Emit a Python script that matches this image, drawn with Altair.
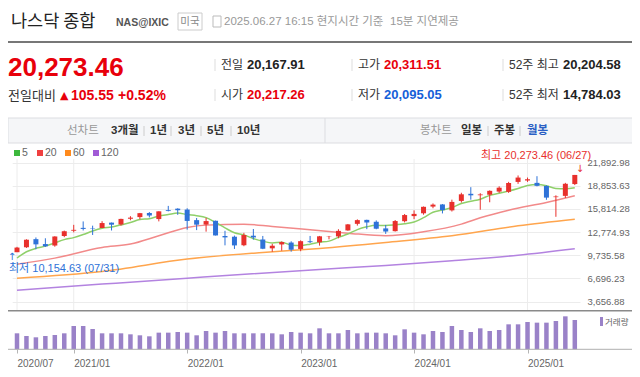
import json
import altair as alt
import pandas as pd

# ---------------- data ----------------
months = [f"{y}/{m:02d}" for y in range(2020, 2026) for m in range(1, 13)][6:66]

opens = [10134, 10785, 11850, 11205, 11010, 12263, 12958, 13330, 13302, 13313,
         14017, 13776, 14526, 14745, 15280, 14484, 15650, 15850, 15733, 14345,
         13760, 14261, 12267, 12170, 11049, 12300, 11809, 10646, 11154, 11405,
         10562, 11574, 11438, 12190, 12210, 12991, 13858, 14378, 14130, 13260,
         12898, 14205, 14873, 15243, 16121, 16404, 15628, 16865, 17799, 17613,
         17676, 18090, 18055, 19360, 19540, 19235, 18833, 17361, 17528, 19078]
highs = [10839, 11829, 12074, 11965, 12229, 12973, 13728, 14175, 13620, 14211,
         14030, 14530, 14864, 15288, 15403, 15498, 16212, 15900, 15900, 14628,
         14647, 14284, 12944, 12320, 12681, 13181, 12270, 11224, 11552, 11572,
         11691, 12270, 12272, 12270, 13154, 13839, 14446, 14400, 14310, 13715,
         14362, 15150, 15628, 16134, 16538, 16452, 17032, 17936, 18671, 17882,
         18250, 18785, 19366, 20205, 19930, 20110, 18908, 17600, 19237, 20273.46]
lows = [10154.63, 10697, 10519, 10822, 10857, 12112, 12737, 12985, 12397, 13308,
        12986, 13612, 14330, 14460, 14700, 14181, 15500, 15039, 13095, 13037,
        12834, 12327, 11036, 10565, 10922, 11783, 10538, 10200, 10334, 10207,
        10265, 11343, 11001, 11826, 11963, 12948, 13630, 13161, 13146, 12544,
        12847, 14045, 14477, 15058, 15903, 15223, 15475, 16648, 17027, 15708,
        16690, 17920, 17918, 19105, 19360, 18777, 17011, 14784.03, 17249, 18946]
closes = [10745.27, 11775.46, 11167.51, 10911.59, 12198.74, 12888.28, 13070.69, 13192.35, 13246.87, 13962.68,
          13748.74, 14503.95, 14672.68, 15259.24, 14950, 15498.39, 15537.69, 15644.97, 14239.88, 13751.40,
          14220.52, 12334.64, 12081.39, 11028.74, 12390.69, 12080, 10575.62, 10988.15, 11468.00, 10466.48,
          11584.55, 11455.54, 12221.91, 12226.58, 12935.29, 13787.92, 14346.02, 14034.97, 13219.32, 12851.24,
          14226.22, 15011.35, 15164.01, 16091.92, 16379.46, 15657.82, 16735.02, 17732.60, 17599.40, 17713.62,
          18189.17, 18600, 19218.17, 19930, 19710, 18847.28, 17299.29, 17446.34, 19113.77, 20273.46]
volumes = [48, 40, 36, 40, 43, 48, 70, 70, 61, 48, 48, 48, 45, 42, 39, 50, 50, 52, 50, 42,
           55, 50, 55, 48, 48, 48, 48, 48, 45, 52, 50, 48, 63, 48, 48, 58, 48, 50, 50, 48,
           42, 60, 50, 45, 55, 52, 70, 58, 52, 63, 55, 58, 75, 75, 82, 80, 80, 85, 99, 88]

ma5 = [9377, 10192, 10647, 10932, 11360, 11788, 12048, 12452, 12919, 13272,
       13444, 13731, 14027, 14430, 14527, 14877, 15083, 15278, 15074, 14934,
       14679, 14038, 13326, 12683, 12411, 11930, 11579, 11360, 11448, 11063,
       11017, 11193, 11439, 11591, 12085, 12526, 13104, 13466, 13665, 13648,
       13735, 13868, 14094, 14669, 15374, 15661, 16006, 16519, 16821, 17088,
       17594, 17866, 18163, 18505, 18888, 19020, 18860, 18506, 18467, 18596]
ma20_idx = [0, 4, 9, 12, 15, 18, 20, 24, 27, 31, 35, 39, 43, 47, 49, 52, 56, 59]
ma20_val = [8570, 9360, 10760, 11200, 12290, 13380, 13690, 13820, 13510, 13080,
            12640, 12290, 12810, 13820, 14650, 15650, 16660, 17540]
ma60_idx = [0, 9, 18, 26, 32, 39, 46, 53, 59]
ma60_val = [6730, 7610, 9230, 10100, 10626, 11410, 12290, 13600, 14470]
ma120_idx = [0, 9, 18, 32, 39, 46, 53, 59]
ma120_val = [5160, 5950, 6730, 7880, 8380, 9010, 9750, 10600]

y_ticks = [3656.88, 6696.23, 9735.58, 12774.93, 15814.28, 18853.63, 21892.98]
x_tick_labels = ["2020/07", "2021/01", "2022/01", "2023/01", "2024/01", "2025/01"]

# ---------------- styles ----------------
NUM = "Liberation Sans"
KR = "Noto Sans CJK KR"
MIX = "Liberation Sans, Noto Sans CJK KR"
RED = "#e8302c"
BLUE = "#2e72d8"
OFF = 8  # page margin

x_tick_idx = [months.index(s) for s in x_tick_labels]
candles = pd.DataFrame({
    "i": list(range(len(months))), "month": months,
    "o": opens, "h": highs, "l": lows, "c": closes,
})
candles["dir"] = ["up" if c >= o else "down" for o, c in zip(opens, closes)]
vdf = pd.DataFrame({"i": list(range(len(months))), "vol": volumes})

X_SCALE = alt.Scale(domain=[0, 59], range=[12 - OFF, 579.8 - OFF], nice=False, zero=False)
Y_SCALE = alt.Scale(domain=[y_ticks[0], y_ticks[-1]], range=[301.6 - OFF, 162.6 - OFF], nice=False, zero=False)
label_expr = f"{json.dumps(x_tick_labels)}[indexof({json.dumps(x_tick_idx)}, datum.value)]"
X_AX = alt.Axis(values=x_tick_idx, labelExpr=label_expr, grid=False, domain=False, ticks=True,
                tickSize=4, tickColor="#b5b5b5", labelAlign="left", labelBaseline="top",
                labelPadding=5, labelFontSize=10, labelColor="#666666", labelFont=NUM,
                title=None, labelFlush=False, labelOverlap=False)
PY_AX = alt.Axis(orient="right", values=y_ticks, format=",.2f", grid=True, gridColor="#ececec",
                 domain=False, ticks=False, labelPadding=3, labelFontSize=9.5,
                 labelColor="#666666", labelFont=NUM, title=None, labelFlush=False,
                 labelOverlap=False, labelBaseline="middle")
CSCALE = alt.Scale(domain=["up", "down"], range=[RED, BLUE])

X = lambda f="i:Q": alt.X(f, scale=X_SCALE, axis=X_AX)

vgrid = alt.Chart(pd.DataFrame({"i": x_tick_idx})).mark_rule(color="#ececec").encode(
    x=X(), y=alt.value(159 - OFF), y2=alt.value(310 - OFF))


def ma_line(idx, vals, color):
    df = pd.DataFrame({"i": idx, "v": vals})
    return alt.Chart(df).mark_line(color=color, strokeWidth=1.5, interpolate="monotone").encode(
        x=X(), y=alt.Y("v:Q", scale=Y_SCALE, axis=PY_AX))


ma120 = ma_line(ma120_idx, ma120_val, "#b383e0")
ma60 = ma_line(ma60_idx, ma60_val, "#ffa54d")
ma20 = ma_line(ma20_idx, ma20_val, "#f28a8a")
ma5l = ma_line(list(range(60)), ma5, "#8fd06a")

wick = alt.Chart(candles).mark_rule(strokeWidth=1).encode(
    x=X(), y=alt.Y("l:Q", scale=Y_SCALE, axis=PY_AX), y2="h:Q",
    color=alt.Color("dir:N", scale=CSCALE, legend=None))
body = alt.Chart(candles).mark_bar(size=5).encode(
    x=X(), y=alt.Y("o:Q", scale=Y_SCALE, axis=PY_AX), y2="c:Q",
    color=alt.Color("dir:N", scale=CSCALE, legend=None))

price = alt.layer(vgrid, ma120, ma60, ma20, ma5l, wick, body)

vol = alt.Chart(vdf).mark_bar(size=4.5, color="#9a82c8").encode(
    x=X(), y=alt.Y("vol:Q", scale=alt.Scale(domain=[0, 106], range=[349.3 - OFF, 314 - OFF], nice=False),
                   axis=None))

ONE = alt.Data(values=[{"k": 0}])


def T(s, x, y, size=12, color="#333333", weight="normal", font=MIX, align="left"):
    return alt.Chart(ONE).mark_text(text=s, fontSize=size, color=color, fontWeight=weight, font=font,
                                    align=align, baseline="middle").encode(
        x=alt.value(x - OFF), y=alt.value(y - OFF))


def R(x1, x2, y1, y2, fill, stroke=None):
    kw = dict(fill=fill)
    if stroke:
        kw.update(stroke=stroke, strokeWidth=1)
    return alt.Chart(ONE).mark_rect(**kw).encode(
        x=alt.value(x1 - OFF), x2=alt.value(x2 - OFF), y=alt.value(y1 - OFF), y2=alt.value(y2 - OFF))


def L(x1, x2, y1, y2, color, w=1):
    return alt.Chart(ONE).mark_rule(color=color, strokeWidth=w).encode(
        x=alt.value(x1 - OFF), x2=alt.value(x2 - OFF), y=alt.value(y1 - OFF), y2=alt.value(y2 - OFF))


deco = [
    # header
    T("나스닥 종합", 11, 22, 17.5, "#222222", font=KR),
    T("NAS@IXIC", 116, 22.5, 10.5, "#555555", "bold", NUM),
    R(178, 202, 13, 30, "#ffffff", "#cccccc"),
    T("미국", 190, 21.5, 10.5, "#888888", font=KR, align="center"),
    R(213, 221, 16, 27, "#ffffff", "#bbbbbb"),
    T("2025.06.27 16:15 현지시간 기준", 224, 21.5, 11.5, "#999999"),
    L(380, 380, 16, 27, "#cccccc"),
    T("15분 지연제공", 390, 21.5, 11.5, "#999999"),
    L(8, 640, 42, 42, "#777777", 2),
    # price block
    T("20,273.46", 8, 68, 26, "#e8000b", "bold", NUM),
    T("전일대비", 8, 96, 13, "#333333", font=KR),
    T("▲", 60, 96, 11, "#e8000b", font="DejaVu Sans"),
    T("105.55", 71, 96, 14, "#e8000b", "bold", NUM),
    T("+0.52%", 118, 96, 14, "#e8000b", "bold", NUM),
    L(215, 215, 59, 71, "#dddddd"), L(215, 215, 89, 101, "#dddddd"),
    L(352, 352, 59, 71, "#dddddd"), L(352, 352, 89, 101, "#dddddd"),
    L(503, 503, 59, 71, "#dddddd"), L(503, 503, 89, 101, "#dddddd"),
    T("전일", 221, 65, 12, "#333333", font=KR),
    T("20,167.91", 247, 65, 13, "#222222", "bold", NUM),
    T("시가", 221, 95, 12, "#333333", font=KR),
    T("20,217.26", 247, 95, 13, "#e8000b", "bold", NUM),
    T("고가", 358, 65, 12, "#333333", font=KR),
    T("20,311.51", 384, 65, 13, "#e8000b", "bold", NUM),
    T("저가", 358, 95, 12, "#333333", font=KR),
    T("20,095.05", 384, 95, 13, "#1560d8", "bold", NUM),
    T("52주 최고", 509, 65, 12, "#333333"),
    T("20,204.58", 563, 65, 13, "#222222", "bold", NUM),
    T("52주 최저", 509, 95, 12, "#333333"),
    T("14,784.03", 563, 95, 13, "#222222", "bold", NUM),
    # toolbar
    R(8, 640, 118, 143, "#f5f6f8", "#dcdde1"),
    L(325, 325, 118, 143, "#dcdde1"),
    T("선차트", 67, 131, 11.5, "#999999", font=KR),
    T("3개월", 111, 131, 11.5, "#333333", "bold"),
    L(144, 144, 126, 136, "#cccccc"),
    T("1년", 150, 131, 11.5, "#333333", "bold"),
    L(171, 171, 126, 136, "#cccccc"),
    T("3년", 178, 131, 11.5, "#333333", "bold"),
    L(201, 201, 126, 136, "#cccccc"),
    T("5년", 207, 131, 11.5, "#333333", "bold"),
    L(231, 231, 126, 136, "#cccccc"),
    T("10년", 237, 131, 11.5, "#333333", "bold"),
    T("봉차트", 420, 131, 11.5, "#999999", font=KR),
    T("일봉", 461, 131, 11.5, "#333333", "bold", KR),
    L(488, 488, 126, 136, "#cccccc"),
    T("주봉", 494, 131, 11.5, "#333333", "bold", KR),
    L(520, 520, 126, 136, "#cccccc"),
    T("월봉", 527, 131, 11.5, "#2b5fc4", "bold", KR),
    # legend
    R(14, 20, 150, 156, "#3db83d"), T("5", 22, 153, 10.5, "#666666", font=NUM),
    R(37, 43, 150, 156, "#f04040"), T("20", 45, 153, 10.5, "#666666", font=NUM),
    R(65, 71, 150, 156, "#ff8a1c"), T("60", 73, 153, 10.5, "#666666", font=NUM),
    R(93, 99, 150, 156, "#a15ad6"), T("120", 101, 153, 10.5, "#666666", font=NUM),
    # annotations
    T("최고 20,273.46 (06/27)", 481, 156, 11, RED),
    T("↓", 580, 169, 10, RED, align="center", font="DejaVu Sans"),
    T("최저 10,154.63 (07/31)", 9, 269, 11, BLUE),
    T("↑", 12, 257, 10, BLUE, align="center", font="DejaVu Sans"),
    # separators of panels
    L(8, 640, 310.7, 310.7, "#8a8a8a", 1.5),
    L(8, 640, 349.3, 349.3, "#b0b0b0", 1),
    # volume label
    R(600, 603, 317, 326, "#9a82c8"),
    T("거래량", 605, 321.5, 8.5, "#666666", font=KR),
]

chart = alt.layer(price, vol, *deco).resolve_scale(y="independent").properties(
    width=576, height=341,
    padding={"left": 0, "top": 0, "right": 48, "bottom": 20},
    autosize=alt.AutoSizeParams(type="none"),
    background="#ffffff",
).configure_view(stroke=None)

chart.save("out.html", embed_options={"renderer": "svg", "actions": False})
